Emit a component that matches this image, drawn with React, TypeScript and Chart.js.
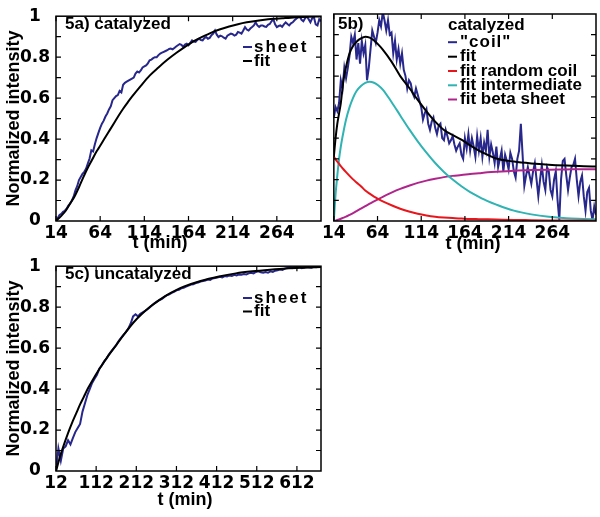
import React, { useEffect, useRef } from "react";
import { Chart, registerables } from "chart.js";
Chart.register(...registerables);

// ---------- data ----------
// panel 5a (catalyzed): "sheet" sampled every 2 min from 14 min
const sheetAStart = 14;
const sheetAStep = 2;
const sheetA = [
  0.0, 0.015, 0.03, 0.035, 0.045, 0.05, 0.06, 0.075, 0.085, 0.10,
  0.12, 0.15, 0.17, 0.20, 0.215, 0.23, 0.24, 0.255, 0.28, 0.305,
  0.345, 0.34, 0.375, 0.405, 0.43, 0.455, 0.475, 0.49, 0.51, 0.525,
  0.545, 0.56, 0.59, 0.60, 0.61, 0.615, 0.635, 0.628, 0.665, 0.675,
  0.68, 0.685, 0.69, 0.695, 0.70, 0.72, 0.73, 0.725, 0.735, 0.75,
  0.755, 0.76, 0.77, 0.785, 0.788, 0.795, 0.80, 0.80, 0.81, 0.818,
  0.822, 0.826, 0.83, 0.834, 0.84, 0.842, 0.838, 0.845, 0.852, 0.858,
  0.864, 0.86, 0.85, 0.862, 0.866, 0.858, 0.87, 0.882, 0.876, 0.874,
  0.884, 0.89, 0.884, 0.882, 0.893, 0.898, 0.89, 0.894, 0.907, 0.915,
  0.93, 0.91, 0.898, 0.905, 0.902, 0.895, 0.89, 0.905, 0.91, 0.915,
  0.912, 0.905, 0.91, 0.923, 0.92, 0.915, 0.93, 0.947, 0.935, 0.93,
  0.94, 0.947, 0.955, 0.97, 0.955, 0.948, 0.955, 0.955, 0.95, 0.948,
  0.958, 0.962, 0.975, 0.987, 0.96, 0.947, 0.952, 0.955, 0.948, 0.96,
  0.97, 0.962, 0.955, 0.965, 0.97, 0.98, 0.987, 0.995, 1.0, 0.982,
  0.975, 0.99, 1.0, 0.985, 0.97, 0.99, 0.995, 0.96, 0.955, 0.985,
  0.975,
];
const fitATimes = [14, 20, 25, 30, 35, 40, 45, 50, 55, 60, 64, 70, 75, 80, 85, 90, 95, 100, 110, 120, 130, 140, 150, 160, 170, 180, 190, 200, 210, 220, 230, 240, 250, 260, 270, 280, 290, 300, 314];
const fitA = [0, 0.025, 0.05, 0.085, 0.12, 0.165, 0.214, 0.26, 0.30, 0.34, 0.367, 0.41, 0.445, 0.48, 0.515, 0.548, 0.578, 0.607, 0.66, 0.71, 0.75, 0.787, 0.82, 0.85, 0.878, 0.90, 0.92, 0.936, 0.95, 0.961, 0.97, 0.977, 0.983, 0.987, 0.99, 0.993, 0.995, 0.997, 0.999];

// panel 5b (catalyzed): "coil" sampled every 2 min from 14 min
const coilBStart = 14;
const coilBStep = 2;
const coilB = [
  0.50, 0.55, 0.53, 0.57, 0.68, 0.64, 0.74, 0.69, 0.74, 0.80,
  0.89, 0.86, 0.90, 0.78, 0.86, 0.76, 0.87, 0.81, 0.85, 0.68,
  0.74, 0.83, 0.92, 0.89, 0.86, 0.91, 0.97, 0.94, 1.01, 0.97,
  0.92, 0.97, 0.90, 0.91, 0.81, 0.87, 0.78, 0.83, 0.76, 0.81,
  0.73, 0.70, 0.64, 0.68, 0.665, 0.62, 0.60, 0.64, 0.61, 0.58,
  0.55, 0.49, 0.52, 0.54, 0.47, 0.44, 0.48, 0.50, 0.45, 0.42,
  0.46, 0.47, 0.40, 0.39, 0.44, 0.41, 0.375, 0.39, 0.41, 0.37,
  0.34, 0.36, 0.375, 0.32, 0.30, 0.40, 0.35, 0.42, 0.34, 0.40,
  0.36, 0.31, 0.41, 0.34, 0.40, 0.31, 0.38, 0.34, 0.44, 0.31,
  0.37, 0.33, 0.28, 0.36, 0.26, 0.30, 0.34, 0.24, 0.32, 0.29,
  0.25, 0.33, 0.30, 0.24, 0.21, 0.30, 0.34, 0.47, 0.32, 0.17,
  0.22, 0.26, 0.22, 0.18, 0.24, 0.28, 0.20, 0.12, 0.20, 0.27,
  0.19, 0.15, 0.26, 0.24, 0.15, 0.12, 0.20, 0.24, 0.10, 0.005,
  0.20, 0.29, 0.30, 0.22, 0.15, 0.21, 0.26, 0.27, 0.30, 0.20,
  0.12, 0.19, 0.22, 0.12, 0.05, 0.14, 0.16, 0.05, 0.005, 0.07,
  0.03,
];
const fitBTimes = [14, 16, 18, 20, 22, 25, 28, 32, 36, 40, 45, 50, 55, 60, 65, 70, 80, 90, 100, 110, 120, 130, 140, 150, 160, 170, 180, 190, 200, 220, 240, 260, 280, 300, 314];
const fitB = [0.31, 0.40, 0.47, 0.52, 0.57, 0.68, 0.745, 0.81, 0.845, 0.866, 0.882, 0.89, 0.886, 0.872, 0.852, 0.828, 0.77, 0.70, 0.645, 0.585, 0.53, 0.48, 0.44, 0.415, 0.393, 0.365, 0.34, 0.32, 0.302, 0.287, 0.278, 0.272, 0.268, 0.265, 0.263];
const fitRandomCoilB = [0.31, 0.298, 0.287, 0.276, 0.265, 0.25, 0.236, 0.218, 0.201, 0.186, 0.168, 0.147, 0.132, 0.118, 0.106, 0.095, 0.076, 0.059, 0.046, 0.035, 0.027, 0.021, 0.017, 0.014, 0.012, 0.01, 0.009, 0.008, 0.007, 0.005, 0.004, 0.003, 0.002, 0.002, 0.001];
const fitIntermediateB = [0, 0.13, 0.22, 0.30, 0.36, 0.43, 0.49, 0.55, 0.595, 0.628, 0.652, 0.667, 0.673, 0.668, 0.655, 0.635, 0.575, 0.51, 0.445, 0.385, 0.33, 0.28, 0.237, 0.2, 0.168, 0.14, 0.117, 0.096, 0.079, 0.05, 0.032, 0.02, 0.013, 0.01, 0.008];
const fitBetaSheetB = [0, 0.002, 0.005, 0.008, 0.011, 0.016, 0.021, 0.03, 0.038, 0.048, 0.06, 0.072, 0.084, 0.095, 0.106, 0.117, 0.137, 0.155, 0.17, 0.184, 0.195, 0.204, 0.212, 0.218, 0.222, 0.227, 0.231, 0.235, 0.238, 0.243, 0.246, 0.248, 0.249, 0.25, 0.25];

// panel 5c (uncatalyzed): "sheet" sampled every 6 min from 12 min
const sheetCStart = 12;
const sheetCStep = 6;
const sheetC = [
  0.0, 0.11, 0.05, 0.11, 0.12, 0.15, 0.13, 0.16, 0.19, 0.21,
  0.23, 0.29, 0.33, 0.37, 0.40, 0.43, 0.45, 0.47, 0.50, 0.515,
  0.535, 0.55, 0.57, 0.585, 0.60, 0.615, 0.635, 0.65, 0.665, 0.678,
  0.695, 0.72, 0.755, 0.765, 0.755, 0.768, 0.775, 0.782, 0.79, 0.80,
  0.81, 0.82, 0.828, 0.835, 0.84, 0.85, 0.858, 0.862, 0.87, 0.875,
  0.882, 0.885, 0.892, 0.895, 0.9, 0.905, 0.91, 0.912, 0.918, 0.92,
  0.925, 0.928, 0.93, 0.935, 0.933, 0.94, 0.942, 0.945, 0.948, 0.945,
  0.952, 0.95, 0.955, 0.952, 0.958, 0.955, 0.96, 0.958, 0.962, 0.96,
  0.965, 0.968, 0.965, 0.972, 0.975, 0.97, 0.968, 0.972, 0.968, 0.975,
  0.972, 0.978, 0.98, 0.984, 0.982, 0.988, 0.992, 0.996, 0.99, 0.995,
  0.992, 0.996, 0.99, 0.994, 0.998, 0.995, 0.993, 0.997, 0.995, 0.999,
  0.997,
];
const fitCTimes = [12, 22, 32, 42, 52, 62, 72, 82, 92, 102, 122, 142, 162, 182, 205, 225, 247, 268, 289, 310, 330, 372, 418, 460, 501, 545, 585, 630, 672];
const fitC = [0, 0.07, 0.13, 0.185, 0.235, 0.28, 0.325, 0.365, 0.405, 0.44, 0.504, 0.562, 0.615, 0.668, 0.725, 0.765, 0.803, 0.833, 0.86, 0.882, 0.9, 0.928, 0.95, 0.965, 0.975, 0.983, 0.989, 0.993, 0.996];

// ticks
const yTicks = [0, 0.2, 0.4, 0.6, 0.8, 1];
const yMinorTicks = [0.1, 0.2, 0.3, 0.4, 0.5, 0.6, 0.7, 0.8, 0.9];
const xTicksAB = [14, 64, 114, 164, 214, 264];
const xTicksC = [12, 112, 212, 312, 412, 512, 612];
const xRangeAB = [14, 314];
const xRangeC = [12, 672];

// labels
const titleA = "5a) catalyzed";
const titleB = "5b)";
const titleC = "5c) uncatalyzed";
const legendB_header = "catalyzed";
const legendSheet = ["sheet", "fit"];
const legendCoil = ["\"coil\"", "fit", "fit random coil", "fit intermediate", "fit beta sheet"];
const xAxisTitle = "t (min)";
const yAxisTitle = "Normalized intensity";

// ---------- styles ----------
const BLUE = "#27278c";
const BLACK = "#000000";
const RED = "#e8161c";
const CYAN = "#2fb3b3";
const PINK = "#b0258c";
const TICK_FONT = { family: "'DejaVu Sans', sans-serif", size: 17, weight: "bold" as const };
const LABEL_FONT = "bold 17px 'Liberation Sans', Arial, sans-serif";
const AXIS_FONT = "bold 18px 'Liberation Sans', Arial, sans-serif";

const series = (start: number, step: number, values: number[]) =>
  values.map((v, i) => ({ x: start + i * step, y: v }));
const pairs = (times: number[], values: number[]) =>
  times.map((t, i) => ({ x: t, y: values[i] }));

const panelPlugin = {
  id: "panel",
  afterDraw(chart: any, _args: any, o: any) {
    const ctx = chart.ctx as CanvasRenderingContext2D;
    const { left, right, top, bottom } = chart.chartArea;
    const xs = chart.scales.x;
    const ys = chart.scales.y;
    ctx.save();
    ctx.strokeStyle = "#000";
    ctx.lineWidth = 1.5;
    ctx.strokeRect(left, top, right - left, bottom - top);
    ctx.lineWidth = 1.2;
    ctx.beginPath();
    for (const v of yMinorTicks) {
      const p = ys.getPixelForValue(v);
      ctx.moveTo(left, p);
      ctx.lineTo(left + 5, p);
      ctx.moveTo(right, p);
      ctx.lineTo(right - 5, p);
    }
    for (const v of o.xMarks) {
      const p = xs.getPixelForValue(v);
      ctx.moveTo(p, bottom);
      ctx.lineTo(p, bottom - 5);
      ctx.moveTo(p, top);
      ctx.lineTo(p, top + 5);
    }
    ctx.stroke();

    ctx.fillStyle = "#000";
    ctx.font = LABEL_FONT;
    ctx.textAlign = "left";
    ctx.textBaseline = "alphabetic";
    ctx.fillText(o.title, o.titleX, o.titleY);

    for (const it of o.legend) {
      if (it.color) {
        ctx.strokeStyle = it.color;
        ctx.lineWidth = 2;
        ctx.beginPath();
        ctx.moveTo(o.legendLineX, it.y - 4.5);
        ctx.lineTo(o.legendLineX + 9, it.y - 4.5);
        ctx.stroke();
      }
      (ctx as any).letterSpacing = it.spacing || "0px";
      ctx.fillText(it.text, it.x !== undefined ? it.x : o.legendTextX, it.y);
      (ctx as any).letterSpacing = "0px";
    }

    ctx.font = AXIS_FONT;
    ctx.textAlign = "center";
    ctx.fillText(xAxisTitle, o.xTitleX, o.xTitleY);
    if (o.yTitle) {
      ctx.save();
      ctx.translate(o.yTitleX, (top + bottom) / 2);
      ctx.rotate(-Math.PI / 2);
      ctx.textBaseline = "middle";
      ctx.fillText(yAxisTitle, 0, 0);
      ctx.restore();
    }
    ctx.restore();
  },
};

function makeConfig(p: any): any {
  return {
    type: "line",
    data: { datasets: p.datasets },
    options: {
      animation: false,
      responsive: false,
      events: [],
      layout: { padding: { top: 14, right: p.padRight, left: 0, bottom: 0 } },
      plugins: { legend: { display: false }, tooltip: { enabled: false }, panel: p.panel },
      elements: { point: { radius: 0 }, line: { tension: 0 } },
      scales: {
        x: {
          type: "linear",
          min: p.xRange[0],
          max: p.xRange[1],
          grid: { display: false, drawTicks: false },
          border: { display: false },
          afterBuildTicks: (s: any) => {
            s.ticks = p.xTicks.map((v: number) => ({ value: v }));
          },
          afterFit: (s: any) => {
            s.height = p.xHeight;
          },
          ticks: {
            font: TICK_FONT,
            color: "#000",
            padding: 2,
            maxRotation: 0,
            autoSkip: false,
            callback: (v: any) => String(v),
          },
        },
        y: {
          min: 0,
          max: 1,
          grid: { display: false, drawTicks: false },
          border: { display: false },
          afterBuildTicks: (s: any) => {
            s.ticks = yTicks.map((v) => ({ value: v }));
          },
          afterFit: (s: any) => {
            s.width = p.yWidth;
          },
          ticks: {
            display: p.showY,
            font: TICK_FONT,
            color: "#000",
            padding: 6,
            crossAlign: "center",
            callback: (v: any) => String(v),
          },
        },
      },
    },
    plugins: [panelPlugin],
  };
}

const dataLine = (data: any, color: string, order: number) => ({
  data,
  borderColor: color,
  backgroundColor: color,
  borderWidth: 2,
  pointRadius: 0,
  fill: false,
  order,
});
const fitLine = (data: any, color: string, order: number) => ({
  ...dataLine(data, color, order),
  cubicInterpolationMode: "monotone",
});

const configA = () =>
  makeConfig({
    datasets: [
      dataLine(series(sheetAStart, sheetAStep, sheetA), BLUE, 5),
      fitLine(pairs(fitATimes, fitA), BLACK, 1),
    ],
    xRange: xRangeAB,
    xTicks: xTicksAB,
    xHeight: 35,
    yWidth: 56,
    showY: true,
    padRight: 9,
    panel: {
      xMarks: xTicksAB,
      title: titleA,
      titleX: 65,
      titleY: 28.5,
      legendLineX: 243,
      legendTextX: 254,
      legend: [
        { text: legendSheet[0], color: BLUE, y: 51.5, spacing: "2px" },
        { text: legendSheet[1], color: BLACK, y: 65.5 },
      ],
      xTitleX: 160,
      xTitleY: 248,
      yTitle: true,
      yTitleX: 14,
    },
  });

const configB = () =>
  makeConfig({
    datasets: [
      dataLine(series(coilBStart, coilBStep, coilB), BLUE, 5),
      fitLine(pairs(fitBTimes, fitB), BLACK, 1),
      fitLine(pairs(fitBTimes, fitRandomCoilB), RED, 2),
      fitLine(pairs(fitBTimes, fitIntermediateB), CYAN, 3),
      fitLine(pairs(fitBTimes, fitBetaSheetB), PINK, 4),
    ],
    xRange: xRangeAB,
    xTicks: xTicksAB,
    xHeight: 35,
    yWidth: 11,
    showY: false,
    padRight: 4,
    panel: {
      xMarks: xTicksAB,
      title: titleB,
      titleX: 18,
      titleY: 28.5,
      legendLineX: 128,
      legendTextX: 140,
      legend: [
        { text: legendB_header, y: 29.5, x: 128 },
        { text: legendCoil[0], color: BLUE, y: 46.7, spacing: "1px" },
        { text: legendCoil[1], color: BLACK, y: 61.2 },
        { text: legendCoil[2], color: RED, y: 75.5 },
        { text: legendCoil[3], color: CYAN, y: 89.8 },
        { text: legendCoil[4], color: PINK, y: 104 },
      ],
      xTitleX: 153,
      xTitleY: 248.5,
      yTitle: false,
    },
  });

const configC = () =>
  makeConfig({
    datasets: [
      dataLine(series(sheetCStart, sheetCStep, sheetC), BLUE, 5),
      fitLine(pairs(fitCTimes, fitC), BLACK, 1),
    ],
    xRange: xRangeC,
    xTicks: xTicksC,
    xHeight: 46,
    yWidth: 56,
    showY: true,
    padRight: 9,
    panel: {
      xMarks: xTicksC,
      title: titleC,
      titleX: 65,
      titleY: 29.3,
      legendLineX: 243,
      legendTextX: 254,
      legend: [
        { text: legendSheet[0], color: BLUE, y: 52.5, spacing: "2px" },
        { text: legendSheet[1], color: BLACK, y: 66 },
      ],
      xTitleX: 185,
      xTitleY: 255,
      yTitle: true,
      yTitleX: 14,
    },
  });

function Panel(props: { make: () => any; left: number; top: number; width: number; height: number }) {
  const ref = useRef<HTMLCanvasElement>(null);
  useEffect(() => {
    const chart = new Chart(ref.current as HTMLCanvasElement, props.make());
    return () => chart.destroy();
  }, []);
  return (
    <canvas
      ref={ref}
      width={props.width}
      height={props.height}
      style={{ position: "absolute", left: props.left, top: props.top, width: props.width, height: props.height }}
    />
  );
}

export default function App() {
  return (
    <div style={{ position: "absolute", left: 0, top: 0, width: 600, height: 517, background: "#fff", overflow: "hidden" }}>
      <Panel make={configA} left={0} top={0} width={330} height={256} />
      <Panel make={configC} left={0} top={250} width={330} height={267} />
      <Panel make={configB} left={320} top={0} width={280} height={256} />
    </div>
  );
}
